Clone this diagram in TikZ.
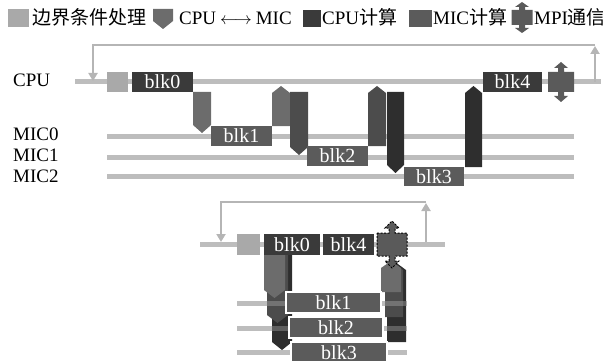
\documentclass[tikz,border=0pt]{standalone}
\usepackage{fontspec}
\setmainfont{Liberation Serif}
\newfontfamily\cjk{Noto Sans CJK SC}
\usetikzlibrary{arrows.meta}
\definecolor{bnd}{HTML}{A9A9A9}
\definecolor{cpuc}{HTML}{3A3A3A}
\definecolor{micc}{HTML}{5B5B5B}
\definecolor{arrA}{HTML}{6C6C6C}
\definecolor{arrB}{HTML}{4C4C4C}
\definecolor{arrC}{HTML}{2E2E2E}
\definecolor{mpic}{HTML}{5A5A5A}
\definecolor{lineg}{HTML}{BDBDBD}
\definecolor{loopc}{HTML}{B5B5B5}
% down pentagon: x1, x2, ytop, ytip, options
\newcommand\penDown[5]{\path[#5] (#1,#3) -- (#2,#3) -- (#2,#4-8) -- ({(#1+#2)/2},#4) -- (#1,#4-8) -- cycle;}
% up pentagon: x1, x2, ybottom, ytip, options
\newcommand\penUp[5]{\path[#5] (#1,#3) -- (#2,#3) -- (#2,#4+7) -- ({(#1+#2)/2},#4) -- (#1,#4+7) -- cycle;}
% MPI double arrow: cx, ytop, ybot, half width, stem, head, options
\newcommand\mpiShape[7]{\path[#7] (#1-#4,#2) -- (#1-3,#2) -- (#1-3,#2-#5) -- (#1-7,#2-#5) -- (#1,#2-#5-#6) -- (#1+7,#2-#5) -- (#1+3,#2-#5) -- (#1+3,#2) -- (#1+#4,#2) -- (#1+#4,#3) -- (#1+3,#3) -- (#1+3,#3+#5) -- (#1+7,#3+#5) -- (#1,#3+#5+#6) -- (#1-7,#3+#5) -- (#1-3,#3+#5) -- (#1-3,#3) -- (#1-#4,#3) -- cycle;}
\tikzset{
  lg/.style={anchor=base west, inner sep=0pt, font=\fontsize{19}{19}\selectfont},
  lab/.style={anchor=base west, inner sep=0pt, font=\fontsize{19}{19}\selectfont},
  track/.style={draw=lineg, line width=5pt},
  looparr/.style={draw=loopc, line width=2pt, -{Triangle[width=9pt,length=8pt]}},
  loopln/.style={draw=loopc, line width=2pt},
  blkbox/.style={inner sep=0pt, text=white, font=\fontsize{20}{20}\selectfont},
  cpubox/.style={blkbox, fill=cpuc},
  micbox/.style={blkbox, fill=micc},
  micboxw/.style={blkbox, fill=micc, draw=white, line width=1.5pt},
}
\begin{document}
\begin{tikzpicture}[x=1pt,y=-1pt]
\useasboundingbox (0,0) rectangle (603,361);
% ---------------- legend ----------------
\fill[bnd] (8,9) rectangle (29,27);
\node[lg] (lg1) at (32,25) {{\cjk 边界条件处理}};
\penDown{153}{173}{9}{29}{fill=arrA}
\node[lg] (lg2) at (179,25) {CPU\hspace{4pt}$\longleftrightarrow$\hspace{4pt}MIC};
\fill[cpuc] (303,10) rectangle (321,27);
\node[lg] (lg3) at (322,25) {CPU{\cjk 计算}};
\fill[micc] (409,10) rectangle (432,27);
\node[lg] (lg4) at (433,25) {MIC{\cjk 计算}};
\mpiShape{522}{10}{25}{10.5}{3}{5}{fill=mpic}
\node[lg] (lg5) at (534,25) {MPI{\cjk 通信}};
% ---------------- top diagram ----------------
\node[lab] (cpu) at (13,87) {CPU};
\node[lab] (mic0) at (13,140) {MIC0};
\node[lab] (mic1) at (13,161) {MIC1};
\node[lab] (mic2) at (13,182) {MIC2};
\draw[track] (75,82) -- (601,82);
\draw[track] (107,136) -- (574,136);
\draw[track] (107,157) -- (574,157);
\draw[track] (107,176) -- (574,176);
\draw[looparr] (595,82) -- (595,46);
\draw[looparr] (595,45) -- (93,45) -- (93,81);
\fill[bnd] (107,72) rectangle (128,92);
\node[cpubox, minimum width=61pt, minimum height=20pt] (tb0) at (162.5,82) {blk0};
\penDown{193}{211}{92}{133}{fill=arrA}
\node[micbox, minimum width=61pt, minimum height=20pt] (tb1) at (241.5,136) {blk1};
\penUp{272}{290}{126}{86}{fill=arrA}
\penDown{290}{308}{92}{155}{fill=arrB}
\node[micbox, minimum width=61pt, minimum height=20pt] (tb2) at (337.5,156) {blk2};
\penUp{368}{386}{146}{86}{fill=arrB}
\penDown{387}{404}{92}{173}{fill=arrC}
\node[micbox, minimum width=60pt, minimum height=19pt] (tb3) at (434,176.5) {blk3};
\penUp{465}{482}{167}{86}{fill=arrC}
\node[cpubox, minimum width=59pt, minimum height=20pt] (tb4) at (512.5,82) {blk4};
\mpiShape{561}{72}{92}{13}{4}{6}{fill=mpic}
% ---------------- bottom diagram ----------------
\draw[looparr] (426,244) -- (426,203);
\draw[looparr] (426,202) -- (221,202) -- (221,242);
\draw[track] (200,244) -- (445,244);
\draw[track] (237,303) -- (407,303);
\draw[track] (237,328) -- (407,328);
\draw[track] (237,352) -- (407,352);
\penDown{272}{292}{255}{350}{fill=arrC}
\penDown{267}{288}{255}{323}{fill=arrB}
\penDown{264}{285}{255}{298}{fill=arrA}
\penUp{387}{406}{342}{263}{fill=arrC}
\penUp{385}{403}{317}{263}{fill=arrB}
\penUp{381}{401}{292}{261}{fill=arrA}
\draw[track, draw opacity=0.35] (237,303) -- (407,303);
\draw[track, draw opacity=0.35] (237,328) -- (407,328);
\draw[track, draw opacity=0.35] (237,352) -- (407,352);
\node[micboxw, minimum width=95pt, minimum height=21pt] (bb1) at (333.5,302.5) {blk1};
\node[micboxw, minimum width=94pt, minimum height=21pt] (bb2) at (336,327.5) {blk2};
\node[micboxw, minimum width=96pt, minimum height=21pt] (bb3) at (339,352.5) {blk3};
\fill[bnd] (237,234) rectangle (260,255);
\node[cpubox, minimum width=56pt, minimum height=21pt] (bb0) at (292,244.5) {blk0};
\node[cpubox, minimum width=51pt, minimum height=21pt] (bb4) at (348.5,244.5) {blk4};
\mpiShape{392}{233}{256}{15}{5}{7}{fill=mpic, draw=black, line width=1pt, dash pattern=on 2pt off 1.5pt}
\end{tikzpicture}
\end{document}
